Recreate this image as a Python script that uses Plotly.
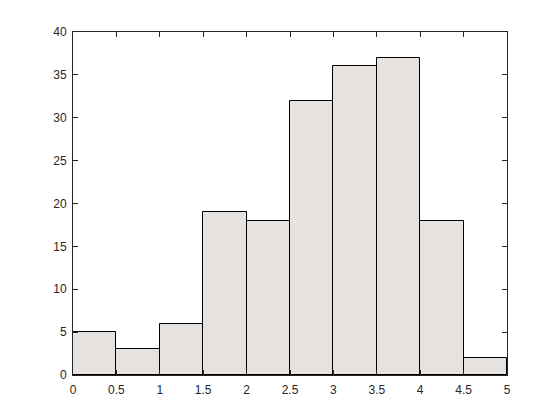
import plotly.graph_objects as go

bin_centers = [0.25, 0.75, 1.25, 1.75, 2.25, 2.75, 3.25, 3.75, 4.25, 4.75]
counts = [5, 3, 6, 19, 18, 32, 36, 37, 18, 2]
x_ticks = [0, 0.5, 1, 1.5, 2, 2.5, 3, 3.5, 4, 4.5, 5]
x_labels = ["0", "0.5", "1", "1.5", "2", "2.5", "3", "3.5", "4", "4.5", "5"]
y_ticks = [0, 5, 10, 15, 20, 25, 30, 35, 40]

fig = go.Figure()
fig.add_trace(go.Bar(
    x=bin_centers, y=counts, width=0.5,
    marker=dict(color="#e5e2df", line=dict(color="black", width=1)),
))

axis_style = dict(
    showline=True, linecolor="#262626", linewidth=1, mirror="ticks",
    ticks="inside", ticklen=5, tickcolor="#262626",
    showgrid=False, zeroline=False,
    tickfont=dict(family="Liberation Sans, Arial", size=12, color="#262626"),
)

fig.update_xaxes(range=[0, 5], tickvals=x_ticks, ticktext=x_labels,
                 ticklabelstandoff=4, **axis_style)
fig.update_yaxes(range=[0, 40], tickvals=y_ticks, ticklabelstandoff=3, **axis_style)

# page body has an 8px margin, so offsets are compensated here
fig.update_layout(
    width=560, height=420,
    margin=dict(l=65, r=61, t=24, b=53),
    plot_bgcolor="white", paper_bgcolor="white",
    showlegend=False, bargap=0,
)

fig.write_html("out.html")
